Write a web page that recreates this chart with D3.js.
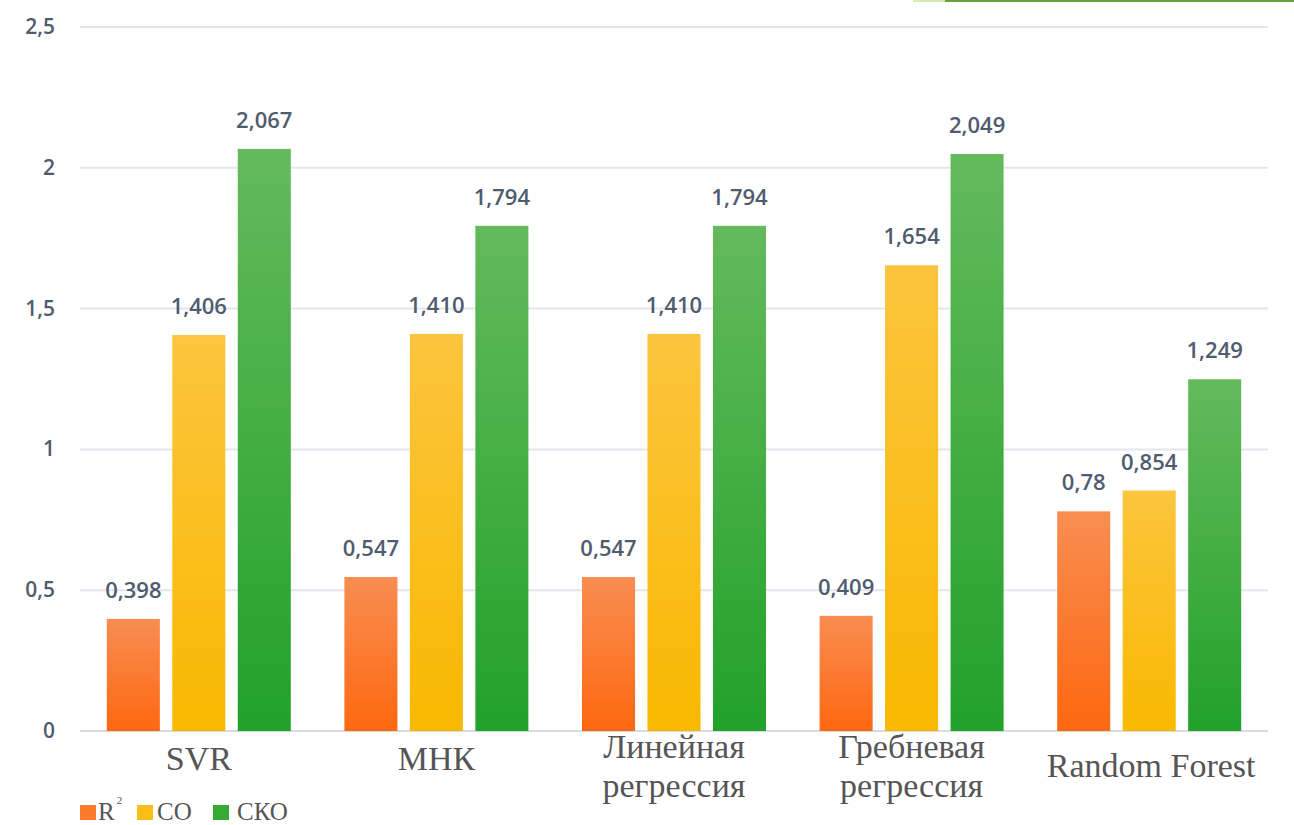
<!DOCTYPE html>
<html><head><meta charset="utf-8">
<script src="https://cdn.jsdelivr.net/npm/d3@7"></script>
<style>body{margin:0;background:#fff}svg{display:block}</style>
</head><body>
<svg id="c" width="1294" height="825"></svg>
<script>
const categories = [["SVR"],["МНК"],["Линейная","регрессия"],["Гребневая","регрессия"],["Random Forest"]];
const seriesNames = ["R2","СО","СКО"];
const r2  = [0.398,0.547,0.547,0.409,0.78];
const co  = [1.406,1.410,1.410,1.654,0.854];
const sko = [2.067,1.794,1.794,2.049,1.249];
const labelsR2  = ["0,398","0,547","0,547","0,409","0,78"];
const labelsCO  = ["1,406","1,410","1,410","1,654","0,854"];
const labelsSKO = ["2,067","1,794","1,794","2,049","1,249"];
const yTicks = [0,0.5,1,1.5,2,2.5];
const yTickLabels = ["0","0,5","1","1,5","2","2,5"];

const svg = d3.select("#c");
const defs = svg.append("defs");
const grads = [["gO","#f98d52","#fe6810"],["gY","#fcc53e","#f9b800"],["gG","#64ba5c","#22a12a"]];
grads.forEach(([id,a,b])=>{
  const g = defs.append("linearGradient").attr("id",id).attr("x1",0).attr("x2",0).attr("y1",0).attr("y2",1);
  g.append("stop").attr("offset","0%").attr("stop-color",a);
  g.append("stop").attr("offset","100%").attr("stop-color",b);
});
const fills = ["url(#gO)","url(#gY)","url(#gG)"];
const legendFills = ["#fb7a2c","#fbbd17","#35aa35"];

const y = d3.scaleLinear().domain([0,2.5]).range([731,27]);
const x0 = d3.scaleBand().domain(d3.range(categories.length)).range([80,1268]).paddingInner(0.2256).paddingOuter(0.1128);
const x1 = d3.scaleBand().domain(d3.range(3)).range([0,x0.bandwidth()]).paddingInner(0.19).paddingOuter(0);

// top artifact line
svg.append("line").attr("x1",913).attr("x2",945).attr("y1",1).attr("y2",1).attr("stroke","#d6eab0").attr("stroke-width",2);
svg.append("line").attr("x1",945).attr("x2",1294).attr("y1",1).attr("y2",1).attr("stroke","#66a238").attr("stroke-width",2);

// grid
svg.append("g").selectAll("line").data(yTicks).join("line")
  .attr("x1",80).attr("x2",1268).attr("y1",d=>y(d)).attr("y2",d=>y(d))
  .attr("stroke",(d)=>d===0?"#d6dbe4":"#e3e6ec").attr("stroke-width",2);
svg.append("g").selectAll("text").data(yTicks).join("text")
  .attr("x",55).attr("y",d=>y(d)+7).attr("text-anchor","end")
  .attr("font-family","'Open Sans', 'DejaVu Sans', sans-serif").attr("font-size",21).attr("font-weight",600)
  .attr("fill","#4f5b6e").text((d,i)=>yTickLabels[i]);

const series = [r2,co,sko];
const labs = [labelsR2,labelsCO,labelsSKO];
const data = [];
categories.forEach((c,ci)=>series.forEach((s,si)=>data.push({ci,si,v:s[ci],l:labs[si][ci]})));

svg.append("g").selectAll("rect").data(data).join("rect")
  .attr("x",d=>x0(d.ci)+x1(d.si)).attr("width",x1.bandwidth())
  .attr("y",d=>y(d.v)).attr("height",d=>y(0)-y(d.v))
  .attr("fill",d=>fills[d.si]);

svg.append("g").selectAll("text").data(data).join("text")
  .attr("x",d=>x0(d.ci)+x1(d.si)+x1.bandwidth()/2).attr("y",d=>y(d.v)-21)
  .attr("text-anchor","middle")
  .attr("font-family","'Open Sans', 'DejaVu Sans', sans-serif").attr("font-size",22).attr("font-weight",600)
  .attr("fill","#4f5b6e").text(d=>d.l);

// category labels
const cat = svg.append("g");
categories.forEach((lines,ci)=>{
  const cx = x0(ci)+x0.bandwidth()/2 + (ci===4?2:0);
  const t = cat.append("text").attr("text-anchor","middle")
    .attr("font-family","'Liberation Serif','Times New Roman',serif").attr("font-size",34).attr("fill","#555");
  if(lines.length===1){
    t.append("tspan").attr("x",cx).attr("y",ci===4?777:770).text(lines[0]);
  } else {
    t.append("tspan").attr("x",cx).attr("y",758).text(lines[0]);
    t.append("tspan").attr("x",cx).attr("y",797).text(lines[1]);
  }
});

// legend
const lg = svg.append("g").attr("font-family","'Liberation Serif','Times New Roman',serif").attr("font-size",25).attr("fill","#555");
const lx = [80,137,213];
const tx = [98,157,237];
seriesNames.forEach((n,i)=>{
  lg.append("rect").attr("x",lx[i]).attr("y",805).attr("width",16).attr("height",15).attr("fill",legendFills[i]);
  const t = lg.append("text").attr("x",tx[i]).attr("y",820);
  if(n==="R2"){ t.append("tspan").text("R"); t.append("tspan").attr("dx",2).attr("dy",-16).attr("font-size",11).text("2"); }
  else t.text(n);
});
</script>
</body></html>
